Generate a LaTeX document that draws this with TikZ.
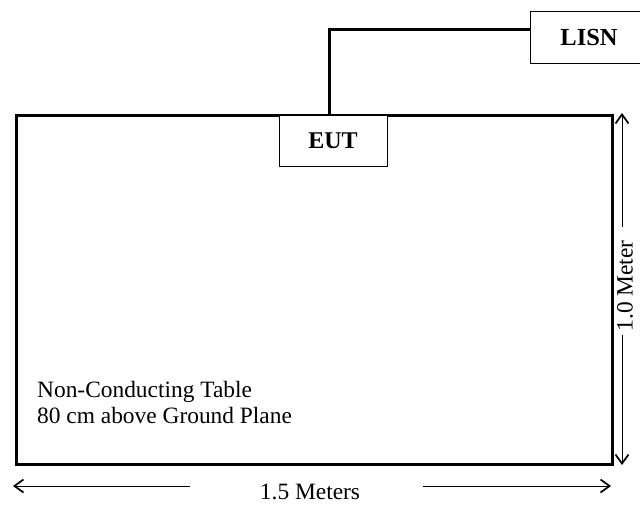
\documentclass[tikz,border=0pt]{standalone}
\usepackage{fontspec}
\setmainfont{Liberation Serif}
\usetikzlibrary{arrows.meta}
\begin{document}
\begin{tikzpicture}[x=1pt,y=-1pt,
  thick line/.style={line width=3.2pt},
  boxnode/.style={draw,line width=1pt,fill=white,inner sep=0pt,font=\fontsize{24}{28}\selectfont\bfseries},
  dimline/.style={line width=1pt,-{Straight Barb[length=9pt,width=13pt,line width=1.7pt]}},
  lbl/.style={inner sep=0pt,font=\fontsize{23.4}{26}\selectfont}]
\useasboundingbox (0,0) rectangle (640,504);
\fill[white] (0,0) rectangle (640,504);
% table
\node[draw,thick line,minimum width=596pt,minimum height=349.5pt,inner sep=0pt,anchor=north west] (table) at (15,113.5) {};
% EUT
\node[boxnode,minimum width=108pt,minimum height=51pt] (eut) at (333,140.5) {EUT};
% LISN
\node[boxnode,minimum width=114pt,minimum height=51.5pt,anchor=north west] (lisn) at (529.5,11) {};
\node[lbl,font=\fontsize{24.5}{28}\selectfont\bfseries] (lisntxt) at (589,37.5) {LISN};
% wire
\coordinate (wtop) at (329.3,29.3);
\draw[thick line] (329.3,113.5) -- (wtop) -- (lisn.west |- wtop);
% vertical dimension
\node[lbl,rotate=90] (vm) at (625,286) {1.0 Meter};
\coordinate (vtop) at (622,113);
\coordinate (vbot) at (622,465);
\coordinate (vt1) at (622,227);
\coordinate (vb1) at (622,335);
\draw[dimline] (vt1) -- (vtop);
\draw[dimline] (vb1) -- (vbot);
% horizontal dimension
\node[lbl] (hm) at (310,491.5) {1.5 Meters};
\coordinate (hl) at (13,486);
\coordinate (hr) at (611,486);
\coordinate (hl1) at (190,486);
\coordinate (hr1) at (423,486);
\draw[dimline] (hl1) -- (hl);
\draw[dimline] (hr1) -- (hr);
% note
\node[lbl,anchor=base west] (note1) at (37,397) {Non-Conducting Table};
\node[lbl,anchor=base west] (note2) at (37,423) {80 cm above Ground Plane};
\end{tikzpicture}
\end{document}
